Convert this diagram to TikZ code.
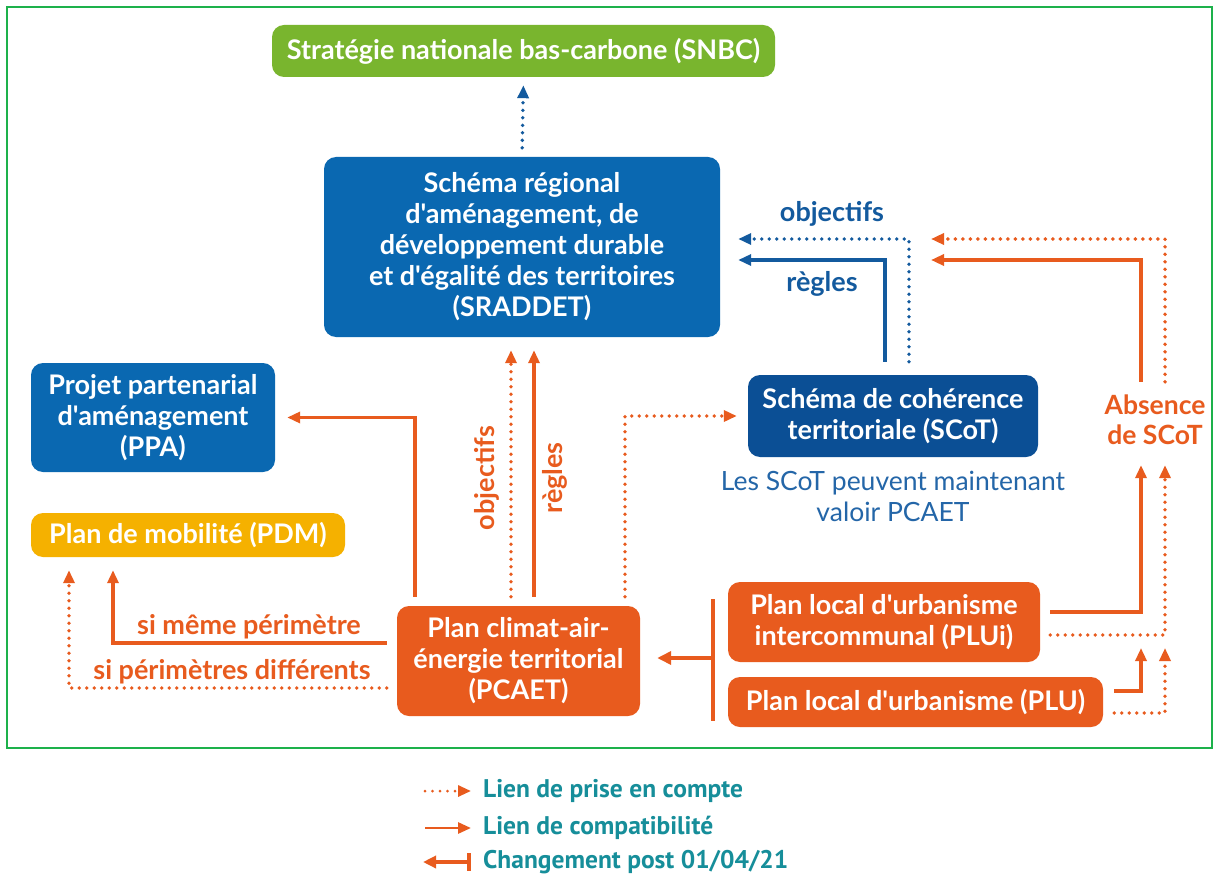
\documentclass[tikz,border=0pt]{standalone}
\usepackage{fontspec}
\setmainfont{Lato}[Ligatures=TeXOff]
\newfontfamily\legendfont{PT Sans}
\usetikzlibrary{arrows.meta}

\definecolor{frameGreen}{HTML}{1DB14B}
\definecolor{snbcGreen}{HTML}{79B52E}
\definecolor{regBlue}{HTML}{0A68B1}
\definecolor{scotBlue}{HTML}{0B4F95}
\definecolor{linkBlue}{HTML}{135A9E}
\definecolor{noteBlue}{HTML}{2466A8}
\definecolor{pdmYellow}{HTML}{F5B100}
\definecolor{planOrange}{HTML}{E85B1E}
\definecolor{legendTeal}{HTML}{168E9A}

\tikzset{
  box/.style={rounded corners=12pt, align=center, text=white, inner sep=0pt,
    font=\bfseries\fontsize{27}{31}\selectfont},
  tip/.style={-{Triangle[length=13pt,width=11pt]}},
  solidlink/.style={line width=3.2pt, tip},
  dotlink/.style={line width=3.8pt, line cap=round, dash pattern=on 0pt off 7.5pt, tip},
  orangelink/.style={draw=planOrange},
  bluelink/.style={draw=linkBlue},
  lbl/.style={font=\bfseries\fontsize{27}{30}\selectfont, inner sep=0pt},
  legendtext/.style={anchor=west, text=legendTeal, inner sep=0pt,
    font=\legendfont\bfseries\fontsize{25.5}{28}\selectfont},
}

\begin{document}
\begin{tikzpicture}[x=1pt,y=-1pt]
\useasboundingbox (0,0) rectangle (1217,877);
\fill[white] (0,0) rectangle (1217,877);
\draw[frameGreen, line width=1.5pt] (7,7) rectangle (1212,748);

% boxes
\node[box, fill=snbcGreen, minimum width=503pt, minimum height=52pt] (snbc) at (523.5,51)
  {Stratégie nationale bas-carbone (SNBC)};
\node[box, fill=regBlue, minimum width=396pt, minimum height=180pt] (sraddet) at (522,247)
  {Schéma régional\\d'aménagement, de\\développement durable\\et d'égalité des territoires\\(SRADDET)};
\node[box, fill=regBlue, minimum width=244pt, minimum height=109pt] (ppa) at (153,417.5)
  {Projet partenarial\\d'aménagement\\(PPA)};
\node[box, fill=pdmYellow, minimum width=314pt, minimum height=44pt] (pdm) at (188,535)
  {Plan de mobilité (PDM)};
\node[box, fill=planOrange, minimum width=243pt, minimum height=110pt] (pcaet) at (518.5,661)
  {Plan climat-air-\\énergie territorial\\(PCAET)};
\node[box, fill=scotBlue, minimum width=290pt, minimum height=82pt] (scot) at (893,416)
  {Schéma de cohérence\\territoriale (SCoT)};
\node[align=center, text=noteBlue, inner sep=0pt, font=\fontsize{26.5}{31}\selectfont] (note) at (893,496)
  {Les SCoT peuvent maintenant\\valoir PCAET};
\node[box, fill=planOrange, minimum width=312pt, minimum height=80pt] (plui) at (884,622)
  {Plan local d'urbanisme\\intercommunal (PLUi)};
\node[box, fill=planOrange, minimum width=375pt, minimum height=50pt] (plu) at (915.5,702)
  {Plan local d'urbanisme (PLU)};
\node[align=center, text=planOrange, inner sep=0pt, font=\bfseries\fontsize{26.5}{30}\selectfont] (absence) at (1155,420)
  {Absence\\de SCoT};

% helper coordinates for bends and free ends
\coordinate (ppaX) at (415,0);
\coordinate (objX) at (511,0);
\coordinate (regX) at (534,0);
\coordinate (scotX) at (625,0);
\coordinate (pdmSolidX) at (113,0);
\coordinate (pdmDotX) at (69,0);
\coordinate (pdmSolidY) at (0,643);
\coordinate (pdmDotY) at (0,688);
\coordinate (scotRegX) at (885,0);
\coordinate (scotObjX) at (909,0);
\coordinate (regY) at (0,260);
\coordinate (objY) at (0,239);
\coordinate (absRegX) at (1141,0);
\coordinate (absObjX) at (1165,0);
\coordinate (absTipReg) at (931,260);
\coordinate (absTipObj) at (931,239);
\coordinate (pluiRegY) at (0,612);
\coordinate (pluiObjY) at (0,635);
\coordinate (pluRegY) at (0,691);
\coordinate (pluObjY) at (0,713);
\coordinate (pluTipReg) at (1141,648);
\coordinate (pluTipObj) at (1165,648);
\coordinate (barTop) at (713,599);
\coordinate (barBot) at (713,721);
\coordinate (barMid) at (713,658);

% SRADDET -> SNBC
\draw[dotlink, bluelink, shorten <=9pt, shorten >=8pt] (sraddet.north) -- (snbc.south);

% SCoT -> SRADDET
\draw[solidlink, bluelink, shorten <=13pt, shorten >=18pt]
  (scot.north -| scotRegX) |- (sraddet.east |- regY);
\draw[dotlink, bluelink, shorten <=13pt, shorten >=18pt]
  (scot.north -| scotObjX) |- (sraddet.east |- objY);
\node[lbl, text=linkBlue] (lblObjB) at (832,214) {objectifs};
\node[lbl, text=linkBlue] (lblRegB) at (822,284) {règles};

% Absence de SCoT -> SRADDET
\draw[solidlink, orangelink, shorten <=13pt] (absence.north -| absRegX) |- (absTipReg);
\draw[dotlink, orangelink, shorten <=13pt] (absence.north -| absObjX) |- (absTipObj);

% PLUi / PLU -> Absence de SCoT
\draw[solidlink, orangelink, shorten <=10pt, shorten >=20pt]
  (plui.east |- pluiRegY) -| (absence.south -| absRegX);
\draw[dotlink, orangelink, shorten <=10pt, shorten >=20pt]
  (plui.east |- pluiObjY) -| (absence.south -| absObjX);
\draw[solidlink, orangelink, shorten <=11pt] (plu.east |- pluRegY) -| (pluTipReg);
\draw[dotlink, orangelink, shorten <=11pt] (plu.east |- pluObjY) -| (pluTipObj);

% PLUi and PLU -> PCAET
\draw[planOrange, line width=4pt] (barTop) -- (barBot);
\draw[planOrange, line width=4pt, -{Triangle[length=14pt,width=13pt]}, shorten >=17pt] (barMid) -- (pcaet.east |- barMid);

% PCAET -> SRADDET
\draw[dotlink, orangelink, shorten <=9pt, shorten >=13pt] (pcaet.north -| objX) -- (sraddet.south -| objX);
\draw[solidlink, orangelink, shorten <=9pt, shorten >=13pt] (pcaet.north -| regX) -- (sraddet.south -| regX);
\node[lbl, text=planOrange, rotate=90] (lblObjO) at (487,478) {objectifs};
\node[lbl, text=planOrange, rotate=90] (lblRegO) at (555,478) {règles};

% PCAET -> SCoT
\draw[dotlink, orangelink, shorten <=9pt, shorten >=11pt] (pcaet.north -| scotX) |- (scot.west);

% PCAET -> PPA
\draw[solidlink, orangelink, shorten <=9pt, shorten >=12pt] (pcaet.north -| ppaX) |- (ppa.east);

% PCAET -> PDM
\draw[solidlink, orangelink, shorten <=10pt, shorten >=13pt]
  (pcaet.west |- pdmSolidY) -| (pdm.south -| pdmSolidX);
\draw[dotlink, orangelink, shorten <=10pt, shorten >=13pt]
  (pcaet.west |- pdmDotY) -| (pdm.south -| pdmDotX);
\node[lbl, text=planOrange] (lblSame) at (249,627) {si même périmètre};
\node[lbl, text=planOrange] (lblDiff) at (232,672) {si périmètres différents};

% legend
\coordinate (legA1) at (425,791);
\coordinate (legA2) at (471,791);
\coordinate (legB1) at (425,828);
\coordinate (legB2) at (471,828);
\coordinate (legC1) at (469,862);
\coordinate (legC2) at (423,862);
\draw[dotlink, orangelink, line width=3pt] (legA1) -- (legA2);
\node[legendtext] (legA) at (483,791) {Lien de prise en compte};
\draw[solidlink, orangelink, line width=2.8pt] (legB1) -- (legB2);
\node[legendtext] (legB) at (483,828) {Lien de compatibilité};
\draw[planOrange, line width=3.5pt, -{Triangle[length=13pt,width=12pt]}] (legC1) -- (legC2);
\draw[planOrange, line width=3.5pt] ([yshift=9pt]legC1) -- ([yshift=-9pt]legC1);
\node[legendtext] (legC) at (483,862) {Changement post 01/04/21};
\end{tikzpicture}
\end{document}
